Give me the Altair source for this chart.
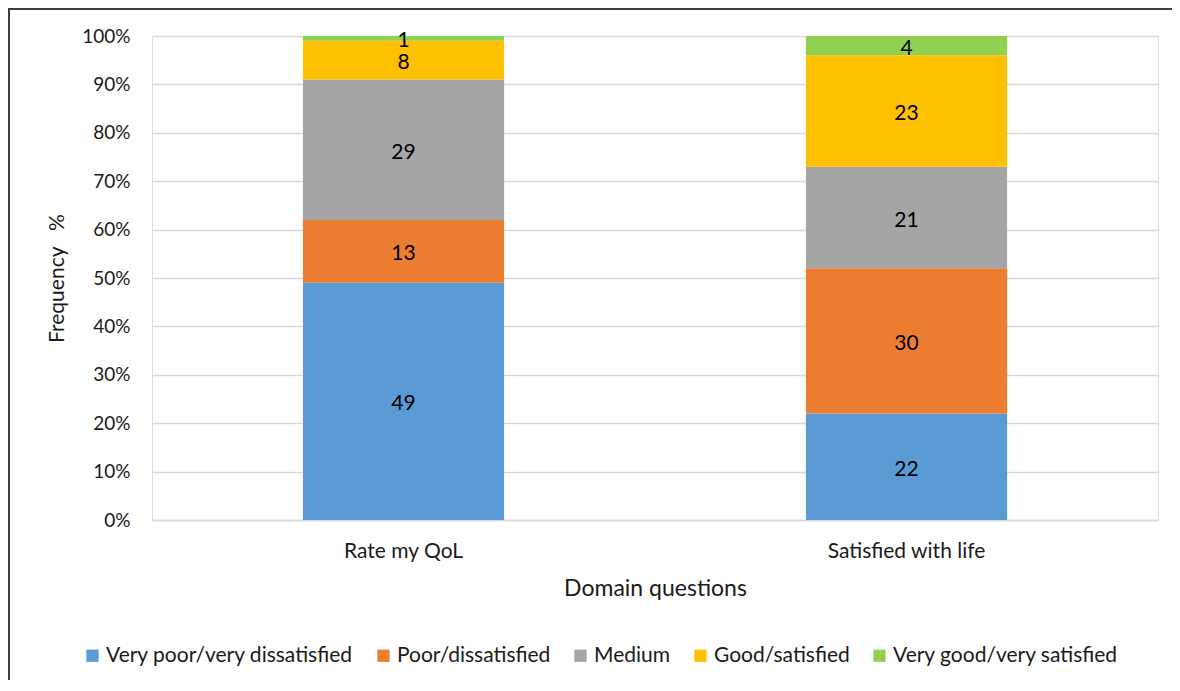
import altair as alt
import pandas as pd

questions = ["Rate my QoL", "Satisfied with life"]
categories = ["Very poor/very dissatisfied", "Poor/dissatisfied", "Medium",
              "Good/satisfied", "Very good/very satisfied"]
rate_qol = [49, 13, 29, 8, 1]
satisfied_life = [22, 30, 21, 23, 4]
colors = ["#5B9BD5", "#ED7D31", "#A5A5A5", "#FFC000", "#92D050"]
y_ticks = [0, 10, 20, 30, 40, 50, 60, 70, 80, 90, 100]

rows = []
for q, vals in zip(questions, [rate_qol, satisfied_life]):
    cum = 0
    for i, (c, v) in enumerate(zip(categories, vals)):
        rows.append({"question": q, "category": c, "value": v, "order": i,
                     "start": cum, "end": cum + v, "mid": cum + v / 2})
        cum += v
df = pd.DataFrame(rows)

FONT = "Lato"
TXT = "#1a1a1a"

x_enc = alt.X("question:N", sort=questions,
              scale=alt.Scale(paddingInner=0.6, paddingOuter=0.3),
              axis=alt.Axis(title="Domain questions", labelAngle=0, ticks=False,
                            domainColor="#D9D9D9", domainWidth=1.5, labelPadding=20,
                            titlePadding=16, labelFontSize=21, titleFontSize=23,
                            labelColor=TXT, titleColor=TXT, titleFontWeight="normal"))

bars = alt.Chart(df).mark_bar().encode(
    x=x_enc,
    y=alt.Y("start:Q", scale=alt.Scale(domain=[0, 100]),
            axis=alt.Axis(values=y_ticks, labelExpr="datum.value + '%'",
                          title="Frequency\u00a0\u00a0\u00a0%", domain=False, ticks=False,
                          gridColor="#D9D9D9", gridWidth=1.5, labelPadding=22,
                          titlePadding=14, labelFontSize=19, titleFontSize=21,
                          labelColor=TXT, titleColor=TXT, titleFontWeight="normal")),
    y2="end:Q",
    color=alt.Color("category:N", sort=categories,
                    scale=alt.Scale(domain=categories, range=colors),
                    legend=alt.Legend(title=None, orient="none", direction="horizontal",
                                      legendX=-70, legendY=609, symbolType="square",
                                      symbolSize=150, symbolStrokeWidth=0,
                                      labelFontSize=21, labelOffset=3,
                                      columnPadding=19, labelColor=TXT, labelLimit=400)),
)

labels = alt.Chart(df).mark_text(fontSize=21, color="black", font=FONT, dy=3).encode(
    x=alt.X("question:N", sort=questions),
    y=alt.Y("mid:Q"),
    text="value:Q",
)

frame_top = alt.Chart(df).mark_rule(color="#404040", strokeWidth=1.5).encode(
    x=alt.value(-144), x2=alt.value(1020), y=alt.value(-27))
frame_left = alt.Chart(df).mark_rule(color="#404040", strokeWidth=1.5).encode(
    x=alt.value(-143), y=alt.value(-28), y2=alt.value(660))

chart = alt.layer(frame_top, frame_left, bars, labels).properties(
    width=1006, height=484,
    autosize=alt.AutoSizeParams(type="none"),
    padding={"left": 144, "top": 28, "right": 14, "bottom": 160},
).configure_view(stroke=None).configure(font=FONT)

chart.save("out.html", embed_options={"renderer": "svg", "actions": False})
